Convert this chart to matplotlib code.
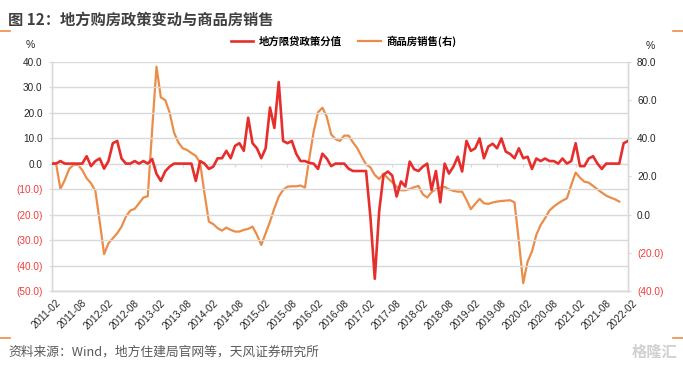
"""Recreate: 地方购房政策变动与商品房销售 (dual-axis monthly line chart)."""

import matplotlib
matplotlib.use("Agg")
import matplotlib.pyplot as plt
import matplotlib.transforms as mtransforms
import pandas as pd

plt.rcParams["font.family"] = ["Liberation Sans", "Noto Sans CJK SC"]

# ─── Data (monthly) ──────────────────────────────────────────────────────────

months = [p.strftime("%Y-%m") for p in pd.period_range("2011-02", "2022-02", freq="M")]

policy_score = [
    0, 0, 1, 0, 0, 0, 0, 0, 2.9, -1,
    1, 2, -2, 1, 8, 8.9, 2, 0, 0, 1,
    0, 1, 0, 1.8, -4, -6.8, -3, -1.2, 0, 0,
    0, 0, 0, -6.8, 1, 0, -2.1, -1.2, 2.1, 2.1,
    5, 2.1, 7, 8, 5, 18, 8, 6, 2.1, 6,
    22, 14, 32, 8.9, 8, 8.9, 3.9, 1, 1, 0.3,
    0, -2.1, 3.9, 2, -1, 0, 0, 0, -2, -2.9,
    -2.9, -2.9, -2.9, -21, -45.2, -18.8, -4.4, -3.1, -4.7, -12.9,
    -7, -9, 0.8, -2.2, -2.9, -1.2, 0, -10.3, -2.9, -15.2,
    0, -3.9, -1.2, 2.7, -3.1, 8.9, 5, 6, 9.9, 2.1,
    6.7, 7.8, 6, 9.9, 4.7, 3.8, 2.1, 6, 2.1, 2.7,
    -2.1, 2, 1, 2, 1, 1, 0, 2, 0, 1,
    8, -1, -1, 2, 2.9, 0, -2.1, 0, 0, 0,
    0, 8, 8.9,
]

# ends 2021-12
house_sales = [
    27.4, 26.7, 13.4, 18.1, 23.9, 26, 26, 23.3, 19, 16.4,
    12.4, -3.7, -20.7, -15, -12.4, -9.8, -6.3, -1, 2.1, 3,
    5.9, 8.9, 9.6, 44, 77.4, 61.3, 59.9, 53.5, 43, 37.8,
    34.7, 33.8, 32.2, 30.7, 27, 11, -3.7, -5, -7.1, -8.4,
    -6.8, -8, -8.9, -8.9, -8, -7.5, -6.3, -10.6, -15.9, -9.8,
    -3.7, 3.3, 9.4, 12.9, 14.6, 14.8, 14.8, 15.2, 14.1, 29.4,
    43.4, 53.5, 55.9, 51.2, 42, 39.5, 38.5, 41.3, 41.3, 37.8,
    34.7, 30.3, 26.3, 24.7, 20.7, 18.6, 21.4, 19, 16.9, 14.6,
    12.7, 12.7, 13.4, 14.3, 15, 10.6, 8.9, 11.7, 13.4, 14.1,
    14.5, 13.2, 12.4, 12, 12, 7.7, 2.8, 5.6, 8.2, 5.9,
    5.6, 6.3, 6.8, 7.1, 7.3, 7.5, 6.4, -14, -35.9, -24.6,
    -19.3, -10.6, -5.4, -1.9, 2.1, 4.2, 5.9, 7.3, 8.5, 15.5,
    22, 19.3, 17.2, 16.7, 15, 13.2, 11.5, 9.9, 8.9, 8,
    6.8,
]

left_ticks = [40, 30, 20, 10, 0, -10, -20, -30, -40, -50]
right_ticks = [80, 60, 40, 20, 0, -20, -40]

RED = "#E62E2D"
ORANGE = "#EB8D48"
GRID = "#D9D9D9"
NEG = "#F03C3C"


def fmt(v):
    return f"({abs(v):.1f})" if v < 0 else f"{v:.1f}"


def main():
    fig = plt.figure(figsize=(6.83, 3.65), dpi=100)
    ax = fig.add_axes([0.0757, 0.2027, 0.8438, 0.6283])
    ax2 = ax.twinx()

    x_red = list(range(len(policy_score)))
    x_org = list(range(len(house_sales)))
    ax.plot(x_red, policy_score, color=RED, lw=1.9, zorder=4)
    ax2.plot(x_org, house_sales, color=ORANGE, lw=1.6, zorder=3)
    ax.set_zorder(ax2.get_zorder() + 1)
    ax.patch.set_visible(False)

    ax.set_xlim(0, len(months) - 1)
    ax.set_ylim(-50, 40)
    ax2.set_ylim(-40, 80)

    ax.set_yticks(left_ticks)
    ax.set_yticklabels([fmt(v) for v in left_ticks])
    for lab, v in zip(ax.get_yticklabels(), left_ticks):
        lab.set_color(NEG if v < 0 else "#262626")
    ax2.set_yticks(right_ticks)
    ax2.set_yticklabels([fmt(v) for v in right_ticks])
    for lab, v in zip(ax2.get_yticklabels(), right_ticks):
        lab.set_color(NEG if v < 0 else "#262626")

    ax.grid(axis="y", color=GRID, lw=1.0)
    ax.set_axisbelow(True)
    ax.tick_params(axis="y", length=2.5, width=0.8, color=GRID, pad=4, labelsize=7.2)
    ax2.tick_params(axis="y", length=2.5, width=0.8, color=GRID, pad=4, labelsize=7.2)

    xt = list(range(0, len(months), 6))
    ax.set_xticks(xt)
    ax.set_xticklabels([months[i] for i in xt], rotation=45, ha="right",
                       rotation_mode="anchor", fontsize=7.2, color="#262626")
    ax.tick_params(axis="x", length=0, pad=5)
    shift = mtransforms.ScaledTranslation(4 / 100, 0, fig.dpi_scale_trans)
    for lab in ax.get_xticklabels():
        lab.set_transform(lab.get_transform() + shift)
    # category-axis tick marks sit on the zero line
    ax.vlines(xt, -1.2, 0, color=GRID, lw=0.9, zorder=1)

    for a in (ax, ax2):
        a.spines["top"].set_visible(False)
        for s in ("left", "right", "bottom"):
            a.spines[s].set_color(GRID)
            a.spines[s].set_linewidth(1.0)

    fig.text(0.044, 0.878, "%", fontsize=7.5, color="#262626", ha="center", va="center")
    fig.text(0.952, 0.874, "%", fontsize=7.5, color="#262626", ha="center", va="center")

    handles = [plt.Line2D([], [], color=RED, lw=1.9),
               plt.Line2D([], [], color=ORANGE, lw=1.6)]
    fig.legend(handles, ["地方限贷政策分值", "商品房销售(右)"], loc="center",
               bbox_to_anchor=(0.503, 0.888), ncol=2, frameon=False,
               prop={"family": ["Noto Sans CJK SC"], "size": 7.5, "weight": "bold"},
               handlelength=2.2, handletextpad=0.5, columnspacing=1.6)

    fig.text(0.012, 0.968, "图 12：地方购房政策变动与商品房销售", fontsize=11,
             fontweight="bold", color="#404040", va="top",
             family=["Noto Sans CJK SC"])
    fig.text(0.012, 0.035, "资料来源：Wind，地方住建局官网等，天风证券研究所",
             fontsize=9.2, color="#595959", va="center",
             family=["Noto Sans CJK SC"])
    fig.text(0.992, 0.035, "格隆汇", fontsize=11, color="#D0D0D0",
             fontweight="bold", ha="right", va="center",
             family=["Noto Sans CJK SC"])

    # orange separator stubs at the page edges
    for yy in (0.915, 0.074):
        fig.add_artist(plt.Line2D([0, 0.014], [yy, yy], color=ORANGE, lw=1.2))
        fig.add_artist(plt.Line2D([0.986, 1], [yy, yy], color=ORANGE, lw=1.2))

    fig.savefig("out.png", dpi=100)
    plt.close(fig)


if __name__ == "__main__":
    main()
